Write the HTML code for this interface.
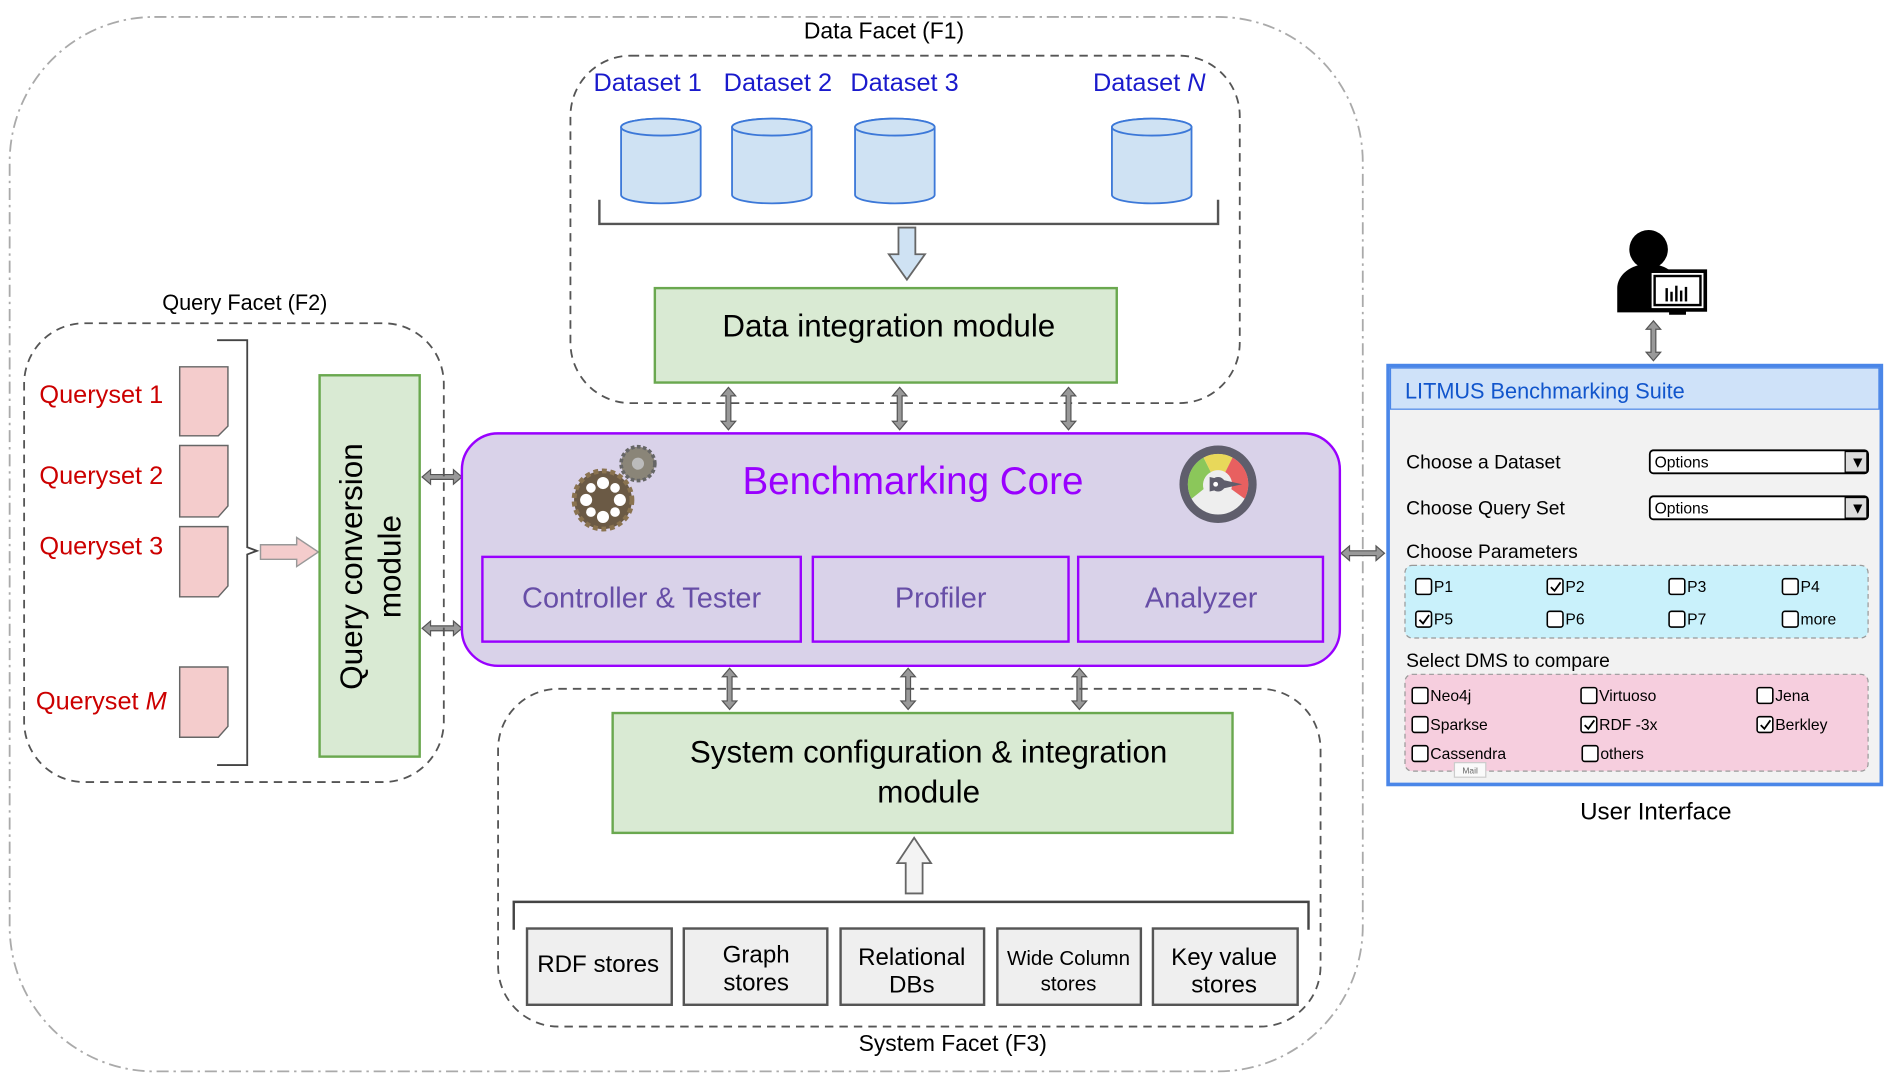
<!DOCTYPE html>
<html><head><meta charset="utf-8"><style>
html,body{margin:0;padding:0;background:#fff;}
svg{display:block;}
text{font-family:"Liberation Sans",sans-serif;}
</style></head><body>
<svg width="1891" height="1075" viewBox="0 0 1568 888" preserveAspectRatio="none" xmlns="http://www.w3.org/2000/svg">
<!-- outer -->
<rect x="8" y="14" width="1122" height="871" rx="120" fill="none" stroke="#aaa" stroke-width="1.5" stroke-dasharray="10,4,2,4"/>
<text x="733" y="32" font-size="19" text-anchor="middle">Data Facet (F1)</text>
<rect x="473" y="46" width="555" height="287" rx="50" fill="none" stroke="#555" stroke-width="1.5" stroke-dasharray="7,5"/>
<g fill="#1a1acc" font-size="21" text-anchor="middle">
<text x="537" y="75">Dataset 1</text><text x="645" y="75">Dataset 2</text><text x="750" y="75">Dataset 3</text><text x="953" y="75">Dataset <tspan font-style="italic">N</tspan></text>
</g>
<g fill="#cfe2f3" stroke="#3c78d8" stroke-width="1.5">
<path d="M515,105 v56 a33,7 0 0 0 66,0 v-56 a33,7 0 0 0 -66,0Z"/><ellipse cx="548" cy="105" rx="33" ry="7"/>
<path d="M607,105 v56 a33,7 0 0 0 66,0 v-56 a33,7 0 0 0 -66,0Z"/><ellipse cx="640" cy="105" rx="33" ry="7"/>
<path d="M709,105 v56 a33,7 0 0 0 66,0 v-56 a33,7 0 0 0 -66,0Z"/><ellipse cx="742" cy="105" rx="33" ry="7"/>
<path d="M922,105 v56 a33,7 0 0 0 66,0 v-56 a33,7 0 0 0 -66,0Z"/><ellipse cx="955" cy="105" rx="33" ry="7"/>
</g>
<path d="M497,165 v20 h513 v-20" fill="none" stroke="#555" stroke-width="2"/>
<polygon points="745,188 759,188 759,210 767,210 752,231 737,210 745,210" fill="#cfe2f3" stroke="#666" stroke-width="1.5"/>
<rect x="543" y="238" width="383" height="78" fill="#d9ead3" stroke="#6aa84f" stroke-width="2"/>
<text x="737" y="278" font-size="26" text-anchor="middle">Data integration module</text>
<g fill="#999" stroke="#555" stroke-width="1">
<polygon points="604,320 610,327 606,327 606,348 610,348 604,355 598,348 602,348 602,327 598,327"/>
<polygon points="746,320 752,327 748,327 748,348 752,348 746,355 740,348 744,348 744,327 740,327"/>
<polygon points="886,320 892,327 888,327 888,348 892,348 886,355 880,348 884,348 884,327 880,327"/>
<polygon points="605,552 611,559 607,559 607,579 611,579 605,586 599,579 603,579 603,559 599,559"/>
<polygon points="753,552 759,559 755,559 755,579 759,579 753,586 747,579 751,579 751,559 747,559"/>
<polygon points="895,552 901,559 897,559 897,579 901,579 895,586 889,579 893,579 893,559 889,559"/>
<polygon points="350,394 357,388 357,392 376,392 376,388 383,394 376,400 376,396 357,396 357,400"/>
<polygon points="350,519 357,513 357,517 376,517 376,513 383,519 376,525 376,521 357,521 357,525"/>
<polygon points="1112,457 1119,451 1119,455 1141,455 1141,451 1148,457 1141,463 1141,459 1119,459 1119,463"/>
<polygon points="1371,265 1377,272 1373,272 1373,291 1377,291 1371,298 1365,291 1369,291 1369,272 1365,272"/>
</g>
<!-- core -->
<rect x="383" y="358" width="728" height="192" rx="30" fill="#d9d2e9" stroke="#9900ff" stroke-width="2"/>
<text x="757" y="408" font-size="32" fill="#9900ff" text-anchor="middle">Benchmarking Core</text>
<g fill="#d9d2e9" stroke="#9900ff" stroke-width="2">
<rect x="400" y="460" width="264" height="70"/><rect x="674" y="460" width="212" height="70"/><rect x="894" y="460" width="203" height="70"/>
</g>
<g fill="#674ea7" font-size="24" text-anchor="middle">
<text x="532" y="502">Controller &amp; Tester</text><text x="780" y="502">Profiler</text><text x="996" y="502">Analyzer</text>
</g>
<!-- gears -->
<circle cx="529" cy="383" r="14" fill="#8a8578" stroke="#666" stroke-width="3" stroke-dasharray="3,2"/>
<circle cx="529" cy="383" r="5" fill="#bbb"/>
<circle cx="500" cy="413" r="24" fill="#6b5a45" stroke="#8a7350" stroke-width="4" stroke-dasharray="4,3"/>
<g fill="#fff"><circle cx="500" cy="399" r="5"/><circle cx="500" cy="427" r="5"/><circle cx="486" cy="413" r="5"/><circle cx="514" cy="413" r="5"/><circle cx="490" cy="403" r="4"/><circle cx="510" cy="423" r="4"/><circle cx="490" cy="423" r="4"/><circle cx="510" cy="403" r="4"/></g>
<!-- gauge -->
<circle cx="1010" cy="400" r="32" fill="#5f5e6c"/>
<circle cx="1010" cy="400" r="25" fill="#eee"/>
<path d="M988,412 A25,25 0 0 1 998,378 L1004,390 A12,12 0 0 0 998,404 Z" fill="#8bc75a"/>
<path d="M998,378 A25,25 0 0 1 1022,378 L1016,390 A12,12 0 0 0 1004,390 Z" fill="#e8d85a"/>
<path d="M1022,378 A25,25 0 0 1 1032,412 L1021,404 A12,12 0 0 0 1016,390 Z" fill="#e86060"/>
<polygon points="1003,394 1030,400 1003,406" fill="#5f5e6c"/><circle cx="1010" cy="400" r="6" fill="#5f5e6c"/><circle cx="1008" cy="400" r="2" fill="#fff"/>
<!-- query facet -->
<text x="203" y="256" font-size="18" text-anchor="middle">Query Facet (F2)</text>
<rect x="20" y="267" width="348" height="379" rx="50" fill="none" stroke="#555" stroke-width="1.5" stroke-dasharray="7,5"/>
<g fill="#cc0000" font-size="21" text-anchor="middle">
<text x="84" y="333">Queryset 1</text><text x="84" y="400">Queryset 2</text><text x="84" y="458">Queryset 3</text><text x="84" y="586">Queryset <tspan font-style="italic">M</tspan></text>
</g>
<g fill="#f4cccc" stroke="#666" stroke-width="1.2">
<path d="M149,303 h40 v49 l-8,8 h-32Z"/><path d="M149,368 h40 v50 l-8,9 h-32Z"/><path d="M149,435 h40 v49 l-8,9 h-32Z"/><path d="M149,551 h40 v49 l-8,9 h-32Z"/>
</g>
<path d="M180,281 h25 v171 l8,3 l-8,3 v174 h-25" fill="none" stroke="#444" stroke-width="1.5"/>
<polygon points="216,450 246,450 246,444 264,456 246,468 246,462 216,462" fill="#f4cccc" stroke="#999" stroke-width="1.2"/>
<rect x="265" y="310" width="83" height="315" fill="#d9ead3" stroke="#6aa84f" stroke-width="2"/>
<text transform="translate(300,468) rotate(-90)" font-size="26" text-anchor="middle">Query conversion</text>
<text transform="translate(332,468) rotate(-90)" font-size="26" text-anchor="middle">module</text>
<!-- system facet -->
<rect x="413" y="569" width="682" height="279" rx="50" fill="none" stroke="#555" stroke-width="1.5" stroke-dasharray="7,5"/>
<text x="790" y="868" font-size="19" text-anchor="middle">System Facet (F3)</text>
<rect x="508" y="589" width="514" height="99" fill="#d9ead3" stroke="#6aa84f" stroke-width="2"/>
<text x="770" y="630" font-size="26" text-anchor="middle">System configuration &amp; integration</text>
<text x="770" y="663" font-size="26" text-anchor="middle">module</text>
<polygon points="751,738 765,738 765,713 772,713 758,692 744,713 751,713" fill="#f3f3f3" stroke="#666" stroke-width="1.5"/>
<path d="M426,768 v-23 h659 v23" fill="none" stroke="#444" stroke-width="2"/>
<g fill="#efefef" stroke="#555" stroke-width="2">
<rect x="437" y="767" width="120" height="63"/><rect x="567" y="767" width="119" height="63"/><rect x="697" y="767" width="119" height="63"/><rect x="827" y="767" width="119" height="63"/><rect x="956" y="767" width="120" height="63"/>
</g>
<g font-size="20" text-anchor="middle">
<text x="496" y="803">RDF stores</text>
<text x="627" y="795">Graph</text><text x="627" y="818">stores</text>
<text x="756" y="797">Relational</text><text x="756" y="820">DBs</text>
<text x="886" y="797" font-size="17">Wide Column</text><text x="886" y="818" font-size="17">stores</text>
<text x="1015" y="797">Key value</text><text x="1015" y="820">stores</text>
</g>
<!-- user icon -->
<circle cx="1367" cy="206" r="16" fill="#000"/>
<path d="M1341,258 v-20 a26,20 0 0 1 52,0 v20 Z" fill="#000"/>
<rect x="1368" y="224" width="46" height="32" fill="#fff" stroke="#000" stroke-width="3"/>
<rect x="1372" y="228" width="38" height="24" fill="#fff" stroke="#000" stroke-width="2"/>
<g fill="#000"><rect x="1381" y="238" width="2" height="11"/><rect x="1385" y="241" width="2" height="8"/><rect x="1389" y="236" width="2" height="13"/><rect x="1393" y="240" width="2" height="9"/><rect x="1397" y="237" width="2" height="12"/><rect x="1384" y="256" width="14" height="4"/></g>
<!-- UI panel -->
<rect x="1151" y="302" width="409" height="346" fill="#f2f2f2" stroke="#4a86e8" stroke-width="3"/>
<rect x="1153" y="304" width="405" height="34" fill="#cfe2f9" stroke="#4a86e8" stroke-width="1"/>
<text x="1165" y="329" font-size="18" fill="#1155cc">LITMUS Benchmarking Suite</text>
<g font-size="16">
<text x="1166" y="387">Choose a Dataset</text><text x="1166" y="425">Choose Query Set</text>
<text x="1166" y="461">Choose Parameters</text><text x="1166" y="551">Select DMS to compare</text>
</g>
<g fill="#fff" stroke="#000" stroke-width="1.5">
<rect x="1368" y="372" width="181" height="19" rx="3"/><rect x="1368" y="410" width="181" height="19" rx="3"/>
</g>
<g fill="#ddd" stroke="#000"><rect x="1530" y="373" width="18" height="17"/><rect x="1530" y="411" width="18" height="17"/></g>
<g font-size="13"><text x="1372" y="386">Options</text><text x="1372" y="424">Options</text><text x="1534" y="386">▼</text><text x="1534" y="424">▼</text></g>
<rect x="1165" y="467" width="384" height="60" rx="6" fill="#c9f1fb" stroke="#999" stroke-dasharray="4,3"/>
<rect x="1165" y="557" width="384" height="80" rx="6" fill="#f6cede" stroke="#999" stroke-dasharray="4,3"/>
<g fill="#fff" stroke="#000" stroke-width="1.3">
<rect x="1174" y="478" width="13" height="13" rx="2"/><rect x="1283" y="478" width="13" height="13" rx="2"/><rect x="1384" y="478" width="13" height="13" rx="2"/><rect x="1478" y="478" width="13" height="13" rx="2"/>
<rect x="1174" y="505" width="13" height="13" rx="2"/><rect x="1283" y="505" width="13" height="13" rx="2"/><rect x="1384" y="505" width="13" height="13" rx="2"/><rect x="1478" y="505" width="13" height="13" rx="2"/>
<rect x="1171" y="568" width="13" height="13" rx="2"/><rect x="1311" y="568" width="13" height="13" rx="2"/><rect x="1457" y="568" width="13" height="13" rx="2"/>
<rect x="1171" y="592" width="13" height="13" rx="2"/><rect x="1311" y="592" width="13" height="13" rx="2"/><rect x="1457" y="592" width="13" height="13" rx="2"/>
<rect x="1171" y="616" width="13" height="13" rx="2"/><rect x="1312" y="616" width="13" height="13" rx="2"/>
</g>
<g fill="none" stroke="#000" stroke-width="1.5">
<path d="M1286,485 l3,3 l5,-7"/><path d="M1177,512 l3,3 l5,-7"/><path d="M1314,599 l3,3 l5,-7"/><path d="M1460,599 l3,3 l5,-7"/>
</g>
<g font-size="13">
<text x="1189" y="489">P1</text><text x="1298" y="489">P2</text><text x="1399" y="489">P3</text><text x="1493" y="489">P4</text>
<text x="1189" y="516">P5</text><text x="1298" y="516">P6</text><text x="1399" y="516">P7</text><text x="1493" y="516">more</text>
<text x="1186" y="579">Neo4j</text><text x="1326" y="579">Virtuoso</text><text x="1472" y="579">Jena</text>
<text x="1186" y="603">Sparkse</text><text x="1326" y="603">RDF -3x</text><text x="1472" y="603">Berkley</text>
<text x="1186" y="627">Cassendra</text><text x="1327" y="627">others</text>
</g>
<rect x="1206" y="630" width="26" height="12" fill="#fafafa" stroke="#ccc"/>
<text x="1219" y="639" font-size="7" fill="#666" text-anchor="middle">Mail</text>
<text x="1373" y="677" font-size="20" text-anchor="middle">User Interface</text>
</svg>
</body></html>
